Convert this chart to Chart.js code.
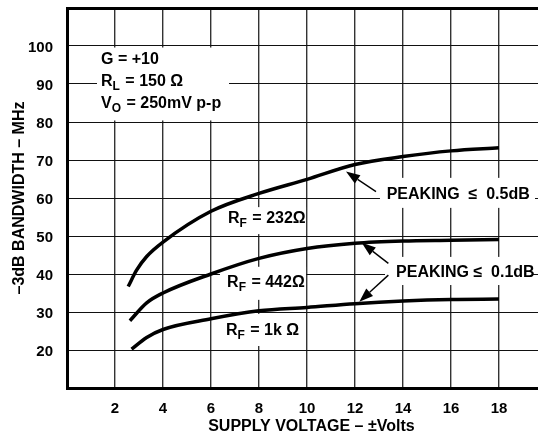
<!DOCTYPE html>
<html>
<head>
<meta charset="utf-8">
<script src="https://cdn.jsdelivr.net/npm/chart.js@4.4.1/dist/chart.umd.min.js"></script>
<style>
  html, body { margin: 0; padding: 0; background: #fff; overflow: hidden; }
  canvas { display: block; }
</style>
</head>
<body>
<canvas id="bwChart" width="538" height="438"></canvas>
<script>
const FONT = '"Liberation Sans", Arial, Helvetica, sans-serif';

// 供电电压 (±V) —— 每条曲线各自的采样点
const voltsRf232 = [2.55, 2.9, 3.32, 4, 6, 8, 10, 12, 14, 16, 18];
const voltsRf442 = [2.62, 3.32, 4, 6, 8, 10, 12, 14, 16, 18];
const voltsRf1k = [2.69, 3.32, 4, 6, 8, 10, 12, 14, 16, 18];

// -3dB 带宽 (MHz)
const bwRf232 = [36.7, 41.0, 44.6, 48.4, 56.5, 61.2, 64.9, 68.8, 70.9, 72.4, 73.2];
const bwRf442 = [27.7, 32.4, 35.0, 40.0, 44.1, 46.7, 48.1, 48.7, 48.9, 49.1];
const bwRf1k = [20.2, 23.3, 25.4, 28.2, 30.3, 31.2, 32.2, 32.9, 33.3, 33.4];

// 坐标轴刻度
const xTicks = [2, 4, 6, 8, 10, 12, 14, 16, 18];
const yTicks = [20, 30, 40, 50, 60, 70, 80, 90, 100];

/**
 * 标注：白底框 [x0, x1, yTop, yBottom]（数据单位）
 */
const labelBoxes = [
  [1.25, 6.75, 99.6, 80.4],
  [6.58, 9.96, 57.6, 50.5],
  [6.375, 9.96, 41.9, 33.2],
  [6.375, 9.92, 29.5, 21.05],
  [13.04, 19.5, 65.3, 57.4],
  [13.25, 19.4, 44.5, 37.1]
];

// 箭头 [尾 x, 尾 y, 头 x, 头 y]
const arrows = [
  [12.875, 61.66, 11.625, 66.95],
  [13.39, 42.8, 12.28, 48.2],
  [13.39, 39.7, 12.18, 32.7]
];

// 文字 [x, 基线 y, 片段]，片段第二项为 true 表示下标
const notes = [
  [1.417, 95.26, [['G = +10']]],
  [1.417, 89.6, [['R'], ['L', true], [' = 150 \u03A9']]],
  [1.417, 83.7, [['V'], ['O', true], [' = 250mV p-p']]],
  [6.71, 53.4, [['R'], ['F', true], [' = 232\u03A9']]],
  [6.67, 36.66, [['R'], ['F', true], [' = 442\u03A9']]],
  [6.625, 23.95, [['R'], ['F', true], [' = 1k \u03A9']]],
  [13.32, 59.66, [['PEAKING  \u2264  0.5dB']]],
  [13.71, 39.13, [['PEAKING \u2264  0.1dB']]]
];

function toPoints(xs, ys) {
  return xs.map((v, i) => ({ x: v, y: ys[i] }));
}

const annotationPlugin = {
  id: 'annotations',
  beforeDatasetsDraw(chart) {
    const { ctx, scales: { x, y } } = chart;
    ctx.save();
    ctx.fillStyle = '#fff';
    labelBoxes.forEach(b => {
      const x0 = x.getPixelForValue(b[0]);
      const x1 = x.getPixelForValue(b[1]);
      const y0 = y.getPixelForValue(b[2]);
      const y1 = y.getPixelForValue(b[3]);
      ctx.fillRect(x0, y0, x1 - x0, y1 - y0);
    });
    ctx.restore();
  },
  afterDatasetsDraw(chart) {
    const { ctx, scales: { x, y } } = chart;
    ctx.save();

    // 箭头
    ctx.strokeStyle = '#000';
    ctx.fillStyle = '#000';
    ctx.lineWidth = 1.4;
    arrows.forEach(a => {
      const tx = x.getPixelForValue(a[0]), ty = y.getPixelForValue(a[1]);
      const hx = x.getPixelForValue(a[2]), hy = y.getPixelForValue(a[3]);
      const ang = Math.atan2(hy - ty, hx - tx);
      const len = 14, half = 5;
      const bx = hx - len * Math.cos(ang), by = hy - len * Math.sin(ang);
      ctx.beginPath();
      ctx.moveTo(tx, ty);
      ctx.lineTo(bx, by);
      ctx.stroke();
      ctx.beginPath();
      ctx.moveTo(hx, hy);
      ctx.lineTo(bx + half * Math.sin(ang), by - half * Math.cos(ang));
      ctx.lineTo(bx - half * Math.sin(ang), by + half * Math.cos(ang));
      ctx.closePath();
      ctx.fill();
    });

    // 文字
    ctx.textBaseline = 'alphabetic';
    ctx.textAlign = 'left';
    notes.forEach(n => {
      let px = x.getPixelForValue(n[0]);
      const py = y.getPixelForValue(n[1]);
      n[2].forEach(seg => {
        const sub = seg[1] === true;
        ctx.font = 'bold ' + (sub ? 12 : 16) + 'px ' + FONT;
        ctx.fillText(seg[0], px, py + (sub ? 4 : 0));
        px += ctx.measureText(seg[0]).width + (sub ? 1 : 0);
      });
    });
    ctx.restore();
  }
};

const curveStyle = {
  borderColor: '#000',
  borderWidth: 3.5,
  pointRadius: 0,
  fill: false,
  cubicInterpolationMode: 'monotone'
};

new Chart(document.getElementById('bwChart'), {
  type: 'line',
  data: {
    datasets: [
      { label: 'RF = 232', data: toPoints(voltsRf232, bwRf232), ...curveStyle },
      { label: 'RF = 442', data: toPoints(voltsRf442, bwRf442), ...curveStyle },
      { label: 'RF = 1k', data: toPoints(voltsRf1k, bwRf1k), ...curveStyle }
    ]
  },
  options: {
    responsive: false,
    animation: false,
    devicePixelRatio: 1,
    layout: { padding: { top: 8, right: 0, left: 0, bottom: 0 } },
    plugins: {
      legend: { display: false },
      tooltip: { enabled: false }
    },
    scales: {
      x: {
        type: 'linear',
        min: 0,
        max: 19.625,
        afterFit(scale) {
          scale.height = 50;
          scale.paddingLeft = 0;
          scale.paddingRight = 0;
        },
        afterBuildTicks(scale) {
          scale.ticks = [0].concat(xTicks).map(v => ({ value: v }));
        },
        ticks: {
          stepSize: 2,
          includeBounds: false,
          padding: 12,
          color: '#000',
          font: { family: FONT, size: 15, weight: 'bold' },
          callback: v => (xTicks.includes(v) ? String(v) : '')
        },
        grid: { color: '#333', lineWidth: 1.4, drawTicks: false },
        border: { display: true, color: '#000', width: 3 },
        title: {
          display: true,
          text: '    SUPPLY VOLTAGE \u2013 \u00B1Volts',
          color: '#000',
          font: { family: FONT, size: 16, weight: 'bold' },
          padding: { top: 0, bottom: 1.5 }
        }
      },
      y: {
        type: 'linear',
        min: 10,
        max: 110,
        afterFit(scale) {
          scale.width = 67;
          scale.paddingTop = 0;
          scale.paddingBottom = 0;
        },
        afterBuildTicks(scale) {
          scale.ticks = [10].concat(yTicks, [110]).map(v => ({ value: v }));
        },
        ticks: {
          stepSize: 10,
          padding: 14,
          labelOffset: 2,
          color: '#000',
          font: { family: FONT, size: 15, weight: 'bold' },
          callback: v => (yTicks.includes(v) ? String(v) : '')
        },
        grid: {
          drawTicks: false,
          color: c => (c.tick && c.tick.value === 110 ? '#000' : '#111'),
          lineWidth: c => (c.tick && c.tick.value === 110 ? 3 : 1)
        },
        border: { display: true, color: '#000', width: 3 },
        title: {
          display: true,
          text: '\u20133dB BANDWIDTH \u2013 MHz',
          color: '#000',
          font: { family: FONT, size: 16, weight: 'bold' },
          padding: { top: 9.5, bottom: 0 }
        }
      }
    }
  },
  plugins: [annotationPlugin]
});
</script>
</body>
</html>
